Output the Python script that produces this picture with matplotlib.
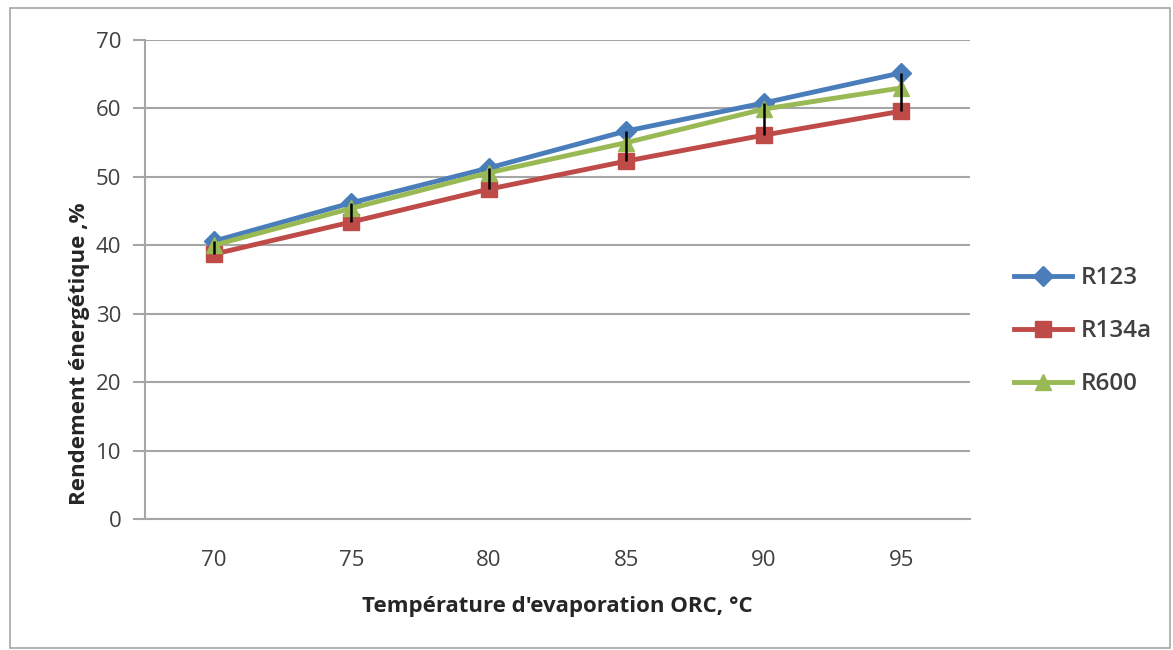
import matplotlib
matplotlib.use("Agg")
import matplotlib.pyplot as plt
import numpy as np
from matplotlib.patches import Rectangle

categories = ["70", "75", "80", "85", "90", "95"]
r123 = [40.6, 46.2, 51.3, 56.7, 60.8, 65.2]
r134a = [38.7, 43.4, 48.2, 52.3, 56.1, 59.6]
r600 = [40.0, 45.4, 50.6, 55.0, 59.9, 63.0]
series_names = ["R123", "R134a", "R600"]
yticks = [0, 10, 20, 30, 40, 50, 60, 70]

plt.rcParams['font.family'] = ['Open Sans', 'DejaVu Sans']

fig = plt.figure(figsize=(11.73, 6.5), dpi=100)
fig.patch.set_facecolor('white')
fig.add_artist(Rectangle((10/1173, 2/650), 1160/1173, 640/650, transform=fig.transFigure,
                         fill=False, edgecolor='#a6a6a6', linewidth=1.2))

ax = fig.add_axes([145/1173, 1 - 519/650, 825/1173, 479/650])
x = np.arange(len(categories))

ax.plot(x, r123, color='#4a7ebb', lw=3.5, marker='D', ms=10, label=series_names[0], zorder=3)
ax.plot(x, r134a, color='#be4b48', lw=3.5, marker='s', ms=11, label=series_names[1], zorder=3)
ax.plot(x, r600, color='#98b954', lw=3.5, marker='^', ms=12, label=series_names[2], zorder=3)

hi = np.max([r123, r134a, r600], axis=0)
lo = np.min([r123, r134a, r600], axis=0)
ax.vlines(x, lo, hi, color='black', lw=1.8, zorder=4)

ax.set_xlim(-0.5, len(categories) - 0.5)
ax.set_ylim(0, 70)
ax.set_yticks(yticks)
ax.set_xticks(x)
ax.set_xticklabels(categories)
ax.yaxis.grid(True, color='#a6a6a6', lw=1.5)
ax.set_axisbelow(True)
for s in ['top', 'right']:
    ax.spines[s].set_visible(False)
for s in ['left', 'bottom']:
    ax.spines[s].set_color('#a6a6a6')
    ax.spines[s].set_linewidth(1.5)
ax.tick_params(axis='y', length=9, width=1.5, color='#a6a6a6', labelsize=16, labelcolor='#404040', pad=8)
ax.tick_params(axis='x', length=0, labelsize=16, labelcolor='#404040', pad=22)

ax.set_xlabel("Température d'evaporation ORC, °C", fontsize=16, fontweight='bold', color='#262626', labelpad=18)
ax.set_ylabel("Rendement énergétique ,%", fontsize=16, fontweight='bold', color='#262626', labelpad=0)
ax.yaxis.set_label_coords(-0.067, 0.345)

leg = ax.legend(loc='center left', bbox_to_anchor=(1.027, 0.392), frameon=False, fontsize=17.5,
                handlelength=2.4, labelspacing=1.2, handletextpad=0.35)
for t in leg.get_texts():
    t.set_color('#404040')
    t.set_fontweight('semibold')

fig.savefig("out.png", dpi=100, facecolor='white')
